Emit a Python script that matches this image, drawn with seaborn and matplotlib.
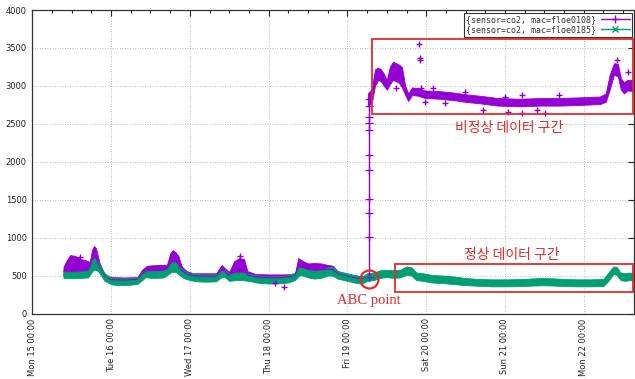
import matplotlib
matplotlib.use("Agg")
import matplotlib.pyplot as plt
import matplotlib.dates as mdates
from matplotlib.lines import Line2D
from matplotlib.patches import Rectangle
import numpy as np
import pandas as pd
import seaborn as sns

# ---- CO2 readings (ppm), hours since Mon 15 00:00 ----
start = pd.Timestamp("2018-01-15 00:00")

# sensor floe0185: band of readings (low / high) over time
g_hours = [9.5, 11, 13, 15, 17, 18.3, 19, 20, 21, 22, 23, 24, 26, 28, 30, 32,
           33.5, 34.5, 36, 38, 40, 41.5, 42.5, 43.8, 45, 46.5, 48, 50, 52, 54,
           56, 57.7, 58.6, 60, 62, 64, 66, 68, 70, 72, 74, 76, 78, 80, 81.5,
           83, 84.5, 86, 88, 90, 91.4, 93, 95, 97, 99, 100.5, 102, 104, 106,
           108, 110, 112, 114, 115.5, 117, 119, 121.5, 125, 128, 131.5, 136,
           140, 145, 150, 152, 155, 158, 162, 166, 170, 174, 175.5, 177, 178,
           179.2, 180.5, 182, 183.3]
g_lo = [465, 465, 465, 470, 475, 560, 580, 560, 500, 430, 410, 385, 375, 375,
        380, 390, 440, 480, 470, 470, 475, 520, 550, 545, 500, 460, 440, 425,
        420, 420, 425, 480, 480, 430, 440, 440, 430, 410, 400, 395, 395, 400,
        410, 440, 510, 490, 470, 460, 470, 500, 500, 460, 440, 420, 400, 395,
        430, 440, 470, 480, 470, 475, 510, 500, 440, 430, 410, 400, 390, 375,
        365, 358, 358, 362, 368, 372, 370, 362, 358, 358, 362, 430, 520, 510,
        440, 430, 440, 430]
g_hi = [550, 550, 550, 555, 565, 720, 735, 690, 610, 530, 500, 475, 465, 465,
        470, 480, 540, 575, 560, 560, 565, 620, 680, 680, 610, 560, 530, 520,
        515, 515, 520, 580, 575, 520, 540, 540, 525, 505, 495, 490, 490, 495,
        505, 540, 620, 600, 570, 565, 570, 610, 615, 560, 540, 520, 495, 490,
        530, 540, 570, 575, 570, 575, 620, 610, 540, 530, 510, 500, 490, 470,
        455, 450, 450, 455, 462, 468, 465, 455, 450, 450, 455, 540, 620, 615,
        540, 530, 540, 530]

# sensor floe0108, before the jump
p_hours = [9.5, 10.5, 11.5, 13, 14.5, 16, 17.5, 18.2, 18.8, 19.4, 20.5, 21.5,
           22.5, 24, 28, 32, 33.5, 35, 38, 41, 42.0, 42.8, 43.6, 44.5, 45.5,
           47, 49, 53, 56, 57.7, 58.6, 60, 61.5, 63, 64.5, 65.5, 68, 72, 76,
           80, 81, 82.5, 84, 86, 88, 90, 91.5, 93, 95, 97, 99, 100.6, 102.5]
p_hi = [615, 700, 770, 760, 720, 705, 680, 840, 890, 860, 665, 560, 500, 480,
        475, 480, 580, 630, 640, 640, 790, 836, 810, 760, 620, 560, 530, 530,
        530, 640, 600, 550, 690, 730, 720, 560, 520, 515, 515, 520, 730, 690,
        660, 665, 660, 640, 630, 560, 530, 510, 500, 490, 485]

# sensor floe0108, after the jump
q_hours = [102.2, 103.4, 104.4, 105.3, 106.2, 107.1, 108.0, 108.9, 109.9,
           110.8, 111.7, 112.6, 113.6, 114.5, 115.7, 117.5, 119.6, 124.2,
           128.8, 131.8, 136.4, 141.8, 148.5, 154.6, 160.7, 167.4, 172.9,
           174.7, 175.9, 177.2, 178.4, 179.3, 180.2, 181.4, 183.3]
q_lo = [2740, 2780, 3000, 3080, 3060, 3000, 2950, 3020, 3080, 3060, 3040,
        2980, 2880, 2800, 2880, 2870, 2840, 2830, 2810, 2790, 2770, 2740,
        2730, 2740, 2740, 2750, 2760, 2790, 2950, 3150, 3120, 2950, 2900,
        2940, 2930]
q_hi = [2900, 2960, 3220, 3240, 3220, 3160, 3080, 3250, 3320, 3300, 3280,
        3250, 3000, 2900, 2980, 2970, 2940, 2930, 2910, 2890, 2870, 2840,
        2830, 2840, 2840, 2850, 2860, 2900, 3150, 3300, 3290, 3100, 3050,
        3080, 3080]

# readings logged while the sensor value climbed
ramp_hour = 102.6
ramp_vals = [485, 1003, 1320, 1505, 1888, 2086, 2416, 2512, 2587, 2733, 2830]

# scattered single readings of floe0108
out_hours = [14.6, 63.4, 74.0, 76.8, 117.7, 118.0, 118.0, 118.3, 110.7,
             122.1, 119.6, 131.8, 125.7, 137.3, 144.0, 145.0, 149.3, 149.3,
             153.9, 156.3, 160.3, 178.1, 181.4]
out_vals = [748, 760, 398, 353, 3550, 3362, 3340, 2967, 2967, 2967, 2790,
            2922, 2770, 2681, 2857, 2659, 2879, 2637, 2681, 2637, 2879, 3340,
            3186]

legend_labels = ["{sensor=co2, mac=floe0108}", "{sensor=co2, mac=floe0185}"]
day_ticks = pd.date_range(start, periods=8, freq="D")

PURPLE = "#9400d3"
GREEN = "#009e73"
RED = "#e32b2b"

sns.set_style("white")
plt.rcParams["font.family"] = ["DejaVu Sans"]


def t(hours):
    return start + pd.to_timedelta(np.asarray(hours, dtype=float), unit="h")


def band_frame(hours, lo, hi):
    return pd.DataFrame({"time": np.concatenate([t(hours), t(hours)]),
                         "co2": np.concatenate([lo, hi])})


fig = plt.figure(figsize=(6.35, 3.79), dpi=100)
ax = fig.add_axes([32.3 / 635, 1 - 313.5 / 379, (634 - 32.3) / 635,
                   (313.5 - 10) / 379])

band_kw = dict(x="time", y="co2", estimator="mean", errorbar=("pi", 100),
               linewidth=0.8, err_kws={"alpha": 1, "linewidth": 0.6})

# floe0108 (drawn first, underneath)
p_lo = np.interp(p_hours, g_hours, g_lo) + 30
sns.lineplot(data=band_frame(p_hours, p_lo, p_hi), color=PURPLE, ax=ax,
             **band_kw)
ramp_df = pd.DataFrame({"time": t([ramp_hour] * len(ramp_vals)),
                        "co2": ramp_vals})
ax.plot(ramp_df["time"], ramp_df["co2"], color=PURPLE, linewidth=1.0,
        linestyle="-", marker="+", markersize=6, markeredgewidth=0.9)
sns.lineplot(data=band_frame(q_hours, q_lo, q_hi), color=PURPLE, ax=ax,
             **band_kw)
sns.scatterplot(x=t(out_hours), y=out_vals, marker="+", color=PURPLE, s=25,
                linewidth=1.0, ax=ax, zorder=3)

# floe0185 on top
sns.lineplot(data=band_frame(g_hours, g_lo, g_hi), color=GREEN, ax=ax,
             **band_kw)

# axes, grid and ticks
ax.set_xlim(t([0])[0], t([183.3])[0])
ax.set_ylim(0, 4000)
ax.set_yticks(np.arange(0, 4001, 500))
ax.set_xticks(day_ticks)
ax.xaxis.set_major_formatter(mdates.DateFormatter("%a %d %H:%M"))
ax.xaxis.set_minor_locator(mdates.HourLocator(byhour=[6, 12, 18]))
ax.set_xlabel("")
ax.set_ylabel("")
ax.grid(True, which="major", color="#a8a8a8", linestyle=(0, (1, 2)),
        linewidth=0.6)
ax.tick_params(which="both", direction="in", top=True, right=True,
               colors="#222222", labelsize=6)
ax.tick_params(which="major", length=4, width=0.8)
ax.tick_params(which="minor", length=2.5, width=0.8)
ax.tick_params(axis="y", pad=4)
ax.tick_params(axis="x", pad=3.5)
for lab in ax.get_xticklabels():
    lab.set_rotation(90)
for sp in ax.spines.values():
    sp.set_color("#333333")
    sp.set_linewidth(0.9)

# annotation boxes
x0, x1, x2 = mdates.date2num(t([103.5, 110.4, 183.0]))
ax.add_patch(Rectangle((x0, 2628), x2 - x0, 3617 - 2628, fill=False,
                       edgecolor=RED, linewidth=1.3, zorder=5))
ax.add_patch(Rectangle((x1, 283), x2 - x1, 652 - 283, fill=False,
                       edgecolor=RED, linewidth=1.3, zorder=5))
ax.plot(t([ramp_hour])[0], 450, marker="o", markersize=13, mfc="none",
        mec=RED, mew=1.6, zorder=6)

ax.text(t([145.3])[0], 2440, "비정상 데이터 구간", color=RED, fontsize=10,
        ha="center", va="center", family=["Noto Sans CJK KR", "DejaVu Sans"])
ax.text(t([146.2])[0], 770, "정상 데이터 구간", color=RED, fontsize=10,
        ha="center", va="center", family=["Noto Sans CJK KR", "DejaVu Sans"])
ax.text(t([102.5])[0], 175, "ABC point", color=RED, fontsize=10.5,
        ha="center", va="center", family=["Liberation Serif"])

# legend
handles = [Line2D([], [], color=PURPLE, marker="+", lw=1, ms=6, mew=1),
           Line2D([], [], color=GREEN, marker="x", lw=1, ms=4, mew=1)]
leg = ax.legend(handles, legend_labels, loc="upper right",
                bbox_to_anchor=(632 / 635, 1 - 12.5 / 379),
                bbox_transform=fig.transFigure, markerfirst=False,
                prop={"family": "DejaVu Sans Mono", "size": 6},
                frameon=True, fancybox=False, edgecolor="#333333",
                framealpha=1, borderpad=0.3, labelspacing=0.15,
                handlelength=3.4, handletextpad=0.6, borderaxespad=0,
                numpoints=1)
leg.get_frame().set_linewidth(0.8)
for txt in leg.get_texts():
    txt.set_color("#333333")

fig.savefig("out.png", dpi=100)
